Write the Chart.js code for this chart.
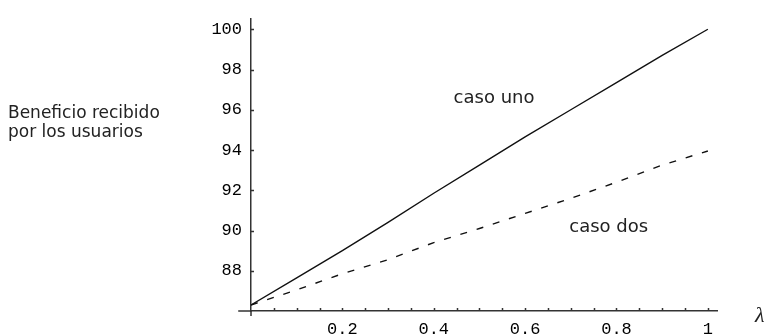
<!DOCTYPE html>
<html><head><meta charset="utf-8">
<script src="https://cdn.jsdelivr.net/npm/chart.js@4.4.1/dist/chart.umd.min.js"></script>
<style>html,body{margin:0;padding:0;background:#fff}canvas{display:block}</style>
</head><body>
<canvas id="c" width="769" height="336"></canvas>
<script>
// ---- data ----
const lambdaValues = [0, 0.1, 0.2, 0.3, 0.4, 0.5, 0.6, 0.7, 0.8, 0.9, 1];
const casoUno = [86.3, 87.65, 89.0, 90.4, 91.85, 93.25, 94.65, 96.0, 97.35, 98.7, 100];
const casoDos = [86.3, 87.05, 87.85, 88.55, 89.4, 90.1, 90.85, 91.6, 92.4, 93.25, 93.95];
const seriesNames = ['caso uno', 'caso dos'];
const yTickValues = [88, 90, 92, 94, 96, 98, 100];
const yTickLabels = ['88', '90', '92', '94', '96', '98', '100'];
const xTickValues = [0.2, 0.4, 0.6, 0.8, 1];
const xTickLabels = ['0.2', '0.4', '0.6', '0.8', '1'];
const xMinorTicks = [0.05, 0.1, 0.15, 0.2, 0.25, 0.3, 0.35, 0.4, 0.45, 0.5, 0.55, 0.6, 0.65, 0.7, 0.75, 0.8, 0.85, 0.9, 0.95, 1];
const yAxisTitle = ['Beneficio recibido', 'por los usuarios'];
const xAxisSymbol = 'λ';

// ---- presentation ----
const INK = '#111';
const labelFont = '"DejaVu Sans", sans-serif';
const tickFont = '"Liberation Mono", monospace';
const seriesLabelPos = [{x: 0.532, y: 96.55}, {x: 0.783, y: 90.15}];

const extras = {
  id: 'extras',
  afterDraw(chart) {
    const {ctx, scales: {x, y}} = chart;
    const x0 = x.getPixelForValue(0), y0 = y.getPixelForValue(86);
    ctx.save();
    ctx.strokeStyle = '#333';
    ctx.lineWidth = 1.5;
    ctx.beginPath();
    ctx.moveTo(x.getPixelForValue(-0.028), y0); ctx.lineTo(x0, y0);
    ctx.moveTo(x0, y0); ctx.lineTo(x0, y.getPixelForValue(85.75));
    ctx.stroke();
    ctx.beginPath();
    xMinorTicks.forEach(v => { const px = Math.round(x.getPixelForValue(v)) + 0.5; ctx.moveTo(px, y0); ctx.lineTo(px, y0 - 3); });
    yTickValues.forEach(v => { const py = Math.round(y.getPixelForValue(v)) + 0.5; ctx.moveTo(x0, py); ctx.lineTo(x0 + 3, py); });
    ctx.stroke();
    // series labels
    ctx.fillStyle = '#222';
    ctx.font = '18px ' + labelFont;
    ctx.textAlign = 'center'; ctx.textBaseline = 'middle';
    seriesNames.forEach((n, i) => ctx.fillText(n, x.getPixelForValue(seriesLabelPos[i].x), y.getPixelForValue(seriesLabelPos[i].y)));
    // axis title
    ctx.textAlign = 'left';
    ctx.font = '17px ' + labelFont;
    yAxisTitle.forEach((t, i) => ctx.fillText(t, 8, 114 + i * 19));
    // lambda
    ctx.font = 'italic 22px "Liberation Serif", serif';
    ctx.fillText(xAxisSymbol, 755, 316);
    ctx.restore();
  }
};

new Chart(document.getElementById('c'), {
  type: 'line',
  data: {
    datasets: [
      {label: seriesNames[0], data: lambdaValues.map((v, i) => ({x: v, y: casoUno[i]})),
       borderColor: INK, borderWidth: 1.4, pointRadius: 0, tension: 0, fill: false},
      {label: seriesNames[1], data: lambdaValues.map((v, i) => ({x: v, y: casoDos[i]})),
       borderColor: INK, borderWidth: 1.4, borderDash: [7, 10], pointRadius: 0, tension: 0, fill: false}
    ]
  },
  options: {
    responsive: false, animation: false, devicePixelRatio: 1,
    layout: {padding: {top: 15, right: 52, left: 0, bottom: 0}},
    plugins: {legend: {display: false}, tooltip: {enabled: false}},
    scales: {
      x: {
        type: 'linear', min: 0, max: 1.02,
        grid: {display: false, drawTicks: false},
        border: {display: true, color: '#333', width: 1.5},
        afterBuildTicks: s => { s.ticks = xTickValues.map(v => ({value: v})); },
        afterFit: s => { s.height = 25; },
        ticks: {font: {family: tickFont, size: 17}, color: '#000', padding: 8, maxRotation: 0, autoSkip: false,
                callback: v => xTickLabels[xTickValues.indexOf(v)]}
      },
      y: {
        type: 'linear', min: 86, max: 100.5,
        grid: {display: false, drawTicks: false},
        border: {display: true, color: '#333', width: 1.5},
        afterBuildTicks: s => { s.ticks = yTickValues.map(v => ({value: v})); },
        afterFit: s => { s.width = 251; },
        ticks: {font: {family: tickFont, size: 17}, color: '#000', padding: 9, autoSkip: false,
                callback: v => yTickLabels[yTickValues.indexOf(v)]}
      }
    }
  },
  plugins: [extras]
});
</script>
</body></html>
